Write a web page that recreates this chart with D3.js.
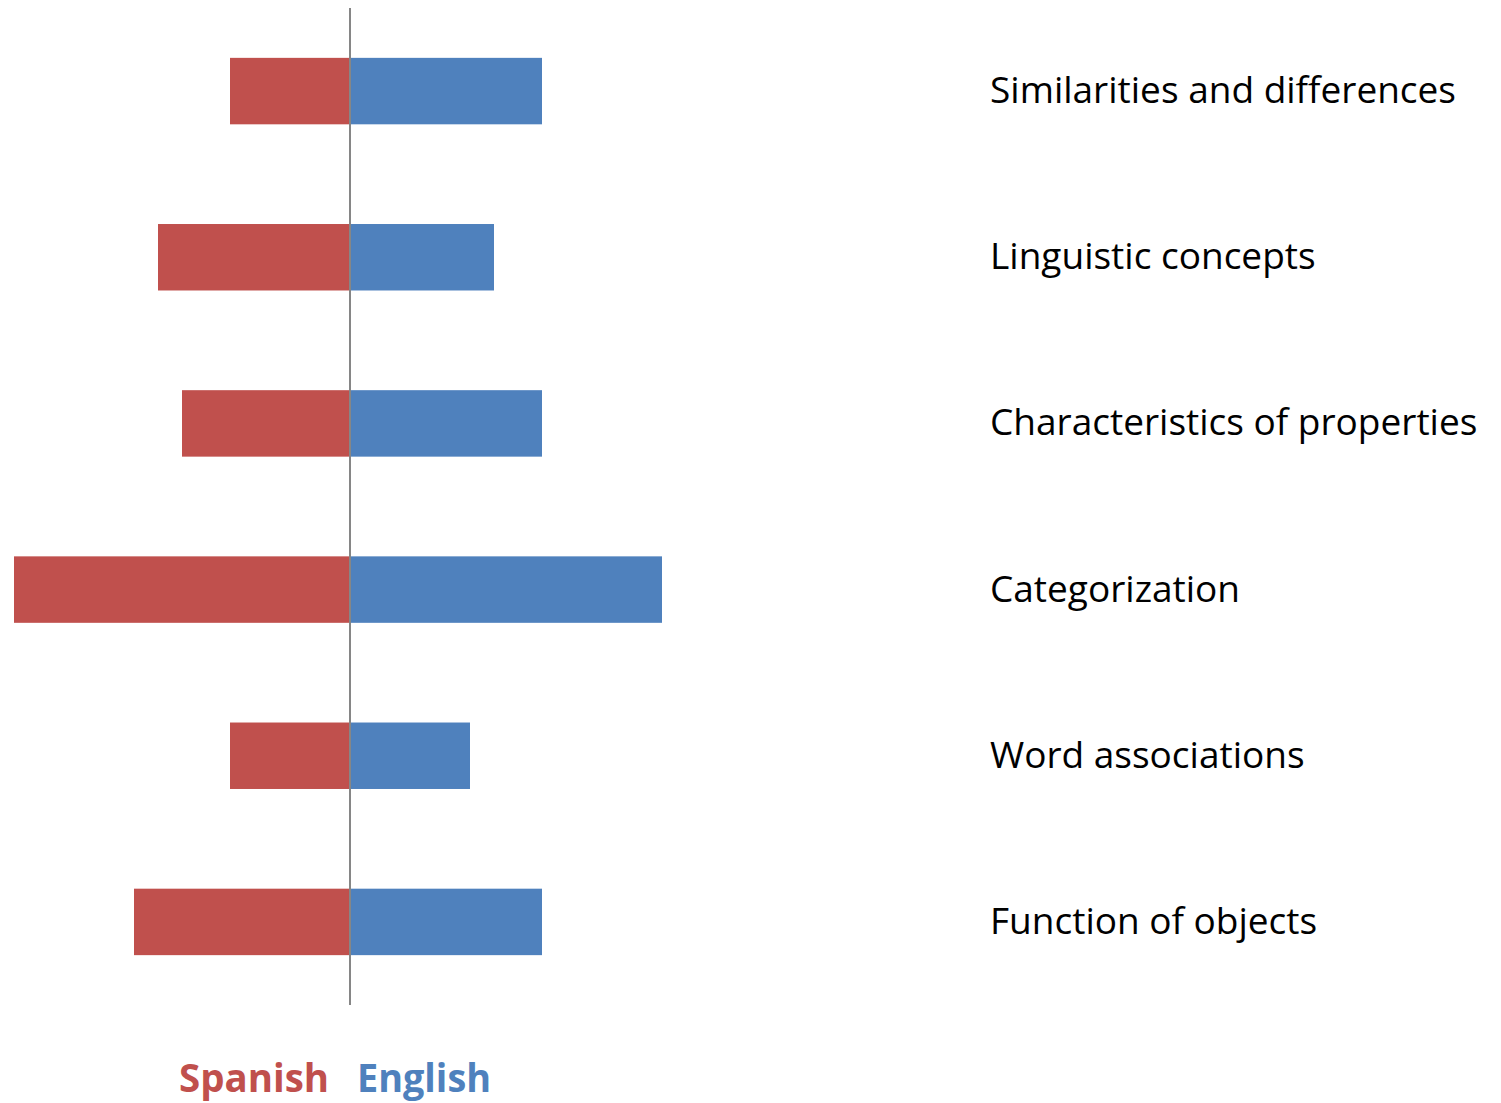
<!DOCTYPE html>
<html>
<head>
<meta charset="utf-8">
<script src="https://cdn.jsdelivr.net/npm/d3@7"></script>
<style>
    body { margin: 0; background: #fff; }
</style>
</head>
<body>
<svg id="scene"></svg>
<script>
let categories = ["Similarities and differences", "Linguistic concepts", "Characteristics of properties",
    "Categorization", "Word associations", "Function of objects"]
let spanish = [5, 8, 7, 14, 5, 9]
let english = [8, 6, 8, 13, 5, 8]
let seriesNames = ["Spanish", "English"]

function init() {
    let width = 1501,
        height = 1103,
        svg = d3.select('#scene').attr("width", width).attr("height", height);

    let red = '#C0504D', blue = '#4F81BD'

    let xScale = d3.scaleLinear().domain([-14, 14]).range([14, 686]);
    let yScale = d3.scaleBand().domain(categories).range([8, 1005])
        .paddingInner(0.6).paddingOuter(0.3);

    // spanish goes left
    svg.selectAll('rect.es')
        .data(categories)
        .enter()
        .append('rect')
        .attr('class', 'es')
        .attr('x', (d, i) => xScale(-spanish[i]))
        .attr('y', d => yScale(d))
        .attr('width', (d, i) => xScale(0) - xScale(-spanish[i]))
        .attr('height', yScale.bandwidth())
        .attr('fill', red)

    svg.selectAll('rect.en')
        .data(categories)
        .enter()
        .append('rect')
        .attr('class', 'en')
        .attr('x', xScale(0))
        .attr('y', d => yScale(d))
        .attr('width', (d, i) => xScale(english[i]) - xScale(0))
        .attr('height', yScale.bandwidth())
        .attr('fill', blue)

    svg.append('line')
        .attr('x1', xScale(0)).attr('x2', xScale(0))
        .attr('y1', 8).attr('y2', 1005)
        .attr('stroke', '#868686')
        .attr('stroke-width', 2)

    svg.selectAll('text.cat')
        .data(categories)
        .enter()
        .append('text')
        .attr('class', 'cat')
        .attr('x', 990)
        .attr('y', d => yScale(d) + yScale.bandwidth() / 2 + 12)
        .attr('font-family', 'Open Sans, sans-serif')
        .attr('font-size', 37)
        .attr('fill', 'black')
        .text(d => d)

    let legend = svg.append('text')
        .attr('y', 1092)
        .attr('font-family', 'Open Sans, sans-serif')
        .attr('font-weight', 'bold')
        .attr('font-size', 39)
    legend.append('tspan').attr('x', 179).attr('fill', red).text(seriesNames[0])
        .attr('textLength', 150).attr('lengthAdjust', 'spacingAndGlyphs')
    legend.append('tspan').attr('x', 357).attr('fill', blue).text(seriesNames[1])
        .attr('textLength', 134).attr('lengthAdjust', 'spacingAndGlyphs')
}

onload = function () {
    init();
}
</script>
</body>
</html>
